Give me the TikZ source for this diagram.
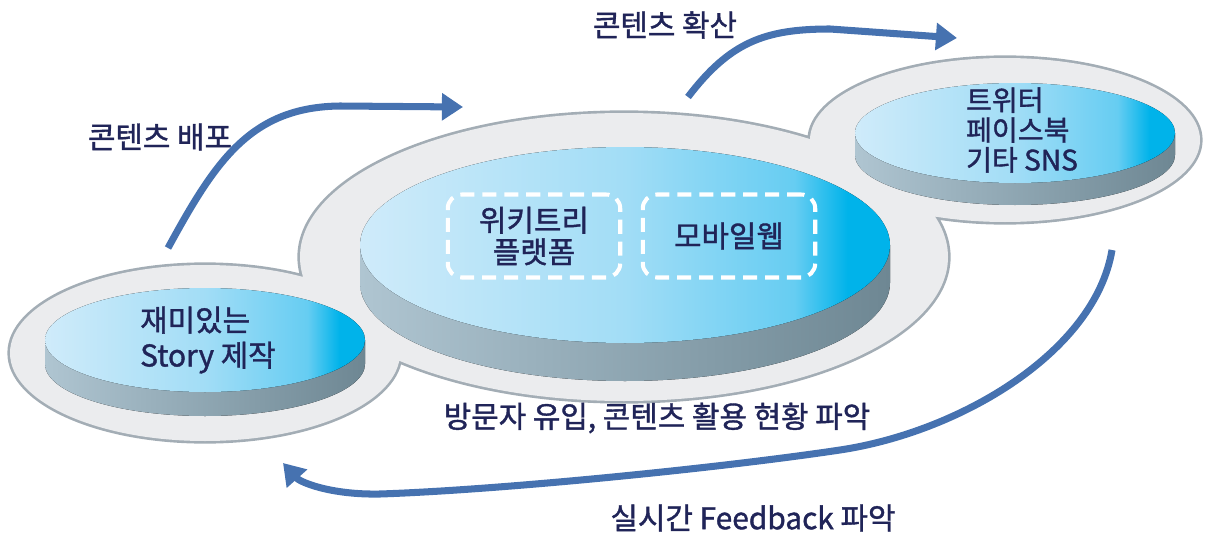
\documentclass[tikz,border=0pt]{standalone}
\usepackage{fontspec}
\setmainfont{Noto Sans CJK KR}[FakeBold=1.3]
\usetikzlibrary{arrows.meta}

\definecolor{ringfill}{HTML}{EBECEE}
\definecolor{ringline}{HTML}{A3ADB5}
\definecolor{flowblue}{HTML}{4672B0}
\definecolor{ink}{HTML}{202458}
\definecolor{faceA}{HTML}{CFEBFA}
\definecolor{faceB}{HTML}{A2DDF6}
\definecolor{faceC}{HTML}{66CDF2}
\definecolor{faceD}{HTML}{00B3EA}
\definecolor{sideA}{HTML}{AFC5D1}
\definecolor{sideB}{HTML}{6E8793}

\pgfdeclarehorizontalshading{facesh}{100bp}{color(0bp)=(faceA); color(25bp)=(faceA);
  color(50bp)=(faceB); color(66bp)=(faceC); color(71bp)=(faceD); color(100bp)=(faceD)}

% disc: name, cx, cy, rx, ry, thickness
\newcommand{\disc}[6]{%
  \fill[left color=sideA, right color=sideB] (#2-#4,#3) -- (#2-#4,#3-#6)
    arc[start angle=180, end angle=360, x radius=#4, y radius=#5] -- (#2+#4,#3) -- cycle;
  \fill[shading=facesh] (#2,#3) ellipse[x radius=#4, y radius=#5];
  \coordinate (#1) at (#2,#3);}

\begin{document}
\begin{tikzpicture}[x=0.02cm, y=0.02cm,
    flow/.style={line width=4pt, draw=flowblue, -{Triangle[length=12pt,width=15pt]}},
    lbl/.style={text=ink, font=\fontsize{17}{20}\selectfont, inner sep=0pt},
    dbox/.style={draw=white, line width=2.3pt, dash pattern=on 8pt off 4.5pt,
      rounded corners=8pt, minimum width=3.45cm, minimum height=1.66cm}
  ]
  \useasboundingbox (0,0) rectangle (1218,532);

  % outer rings
  \draw[ringline, line width=3pt] (205,179) ellipse[x radius=195, y radius=88]
    (624,275) ellipse[x radius=324, y radius=144]
    (1005,392) ellipse[x radius=195, y radius=82];
  \fill[ringfill] (205,179) ellipse[x radius=195, y radius=88]
    (624,275) ellipse[x radius=324, y radius=144]
    (1005,392) ellipse[x radius=195, y radius=82];

  % discs
  \disc{mid}{625}{287}{265}{98}{38}
  \disc{left}{205}{192}{160}{52}{24}
  \disc{right}{1015}{399}{160}{50}{22}

  \node[dbox] (wiki) at (534,296) {};
  \node[dbox] (mobile) at (729,296) {};
  \node[lbl, align=center, font=\fontsize{17}{18}\selectfont] at (wiki) {위키트리\\플랫폼};
  \node[lbl] at (mobile) {모바일웹};

  \node[lbl, align=left, font=\fontsize{17}{20}\selectfont] (story) at (208,192) {재미있는\\Story 제작};
  \node[lbl, align=left, font=\fontsize{16}{17}\selectfont] (sns) at (1022,402) {트위터\\페이스북\\기타 SNS};

  % labels
  \node[lbl] (distlbl) at (160,395) {콘텐츠 배포};
  \node[lbl] (spreadlbl) at (665,507) {콘텐츠 확산};
  \node[lbl] (visitlbl) at (657,114) {방문자 유입, 콘텐츠 활용 현황 파악};
  \node[lbl] (fblbl) at (753,14) {실시간 Feedback 파악};

  % arrows
  \coordinate (a1s) at (168,284);
  \coordinate (a1e) at (463,425);
  \coordinate (a2s) at (688,435);
  \coordinate (a2e) at (957,494);
  \coordinate (a3s) at (1112,282);
  \coordinate (a3e) at (283,69);
  \draw[flow] (a1s) .. controls (215,370) and (250,425) .. (340,426) -- (a1e);
  \draw[flow] (a2s) .. controls (730,490) and (765,503) .. (830,503) -- (a2e);
  \draw[flow] (a3s) .. controls (1095,180) and (960,100) .. (840,82)
    .. controls (720,64) and (500,42) .. (380,38)
    .. controls (330,37) and (300,50) .. (a3e);
\end{tikzpicture}
\end{document}
